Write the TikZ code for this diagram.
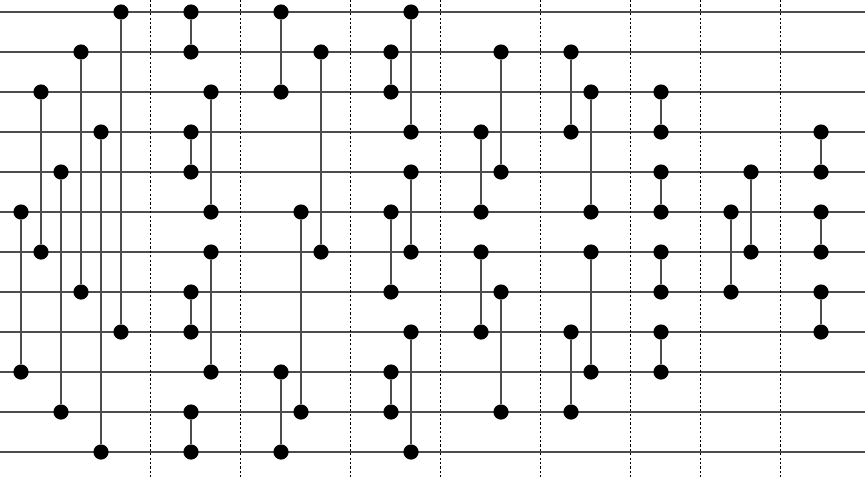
\documentclass[tikz,border=0pt]{standalone}
\begin{document}
\begin{tikzpicture}[x=1pt,y=-1pt,
  wire/.style={draw=black!70,line width=1.7pt},
  link/.style={draw=black!70,line width=1.7pt},
  barrier/.style={draw=black,line width=0.9pt,dash pattern=on 2.2pt off 2.2pt},
  dot/.style={circle,fill=black,draw=none,minimum size=15.2pt,inner sep=0pt}]
\useasboundingbox (0,0) rectangle (867,482);
% wires
\foreach \w in {12,52,...,452}{
  \coordinate (wl\w) at (0,\w);
  \coordinate (wr\w) at (865,\w);
  \draw[wire] (wl\w) -- (wr\w);
}
% barriers
\foreach \x in {151,241,351,441,541,631,701,781}{
  \coordinate (bt\x) at (\x-0.4,0);
  \coordinate (bb\x) at (\x-0.4,479.5);
  \draw[barrier] (bt\x) -- (bb\x);
}
% gates: x / top wire / bottom wire
\foreach \x/\a/\b in {
  21/212/372, 41/92/252, 61/172/412, 81/52/292, 101/132/452, 121/12/332,
  191/12/52, 191/132/172, 191/292/332, 191/412/452,
  211/92/212, 211/252/372,
  281/12/92, 281/372/452, 301/212/412, 321/52/252,
  391/52/92, 391/212/292, 391/372/412,
  411/12/132, 411/172/252, 411/332/452,
  481/132/212, 481/252/332,
  501/52/172, 501/292/412,
  571/52/132, 571/332/412,
  591/92/212, 591/252/372,
  661/92/132, 661/172/212, 661/252/292, 661/332/372,
  731/212/292, 751/172/252,
  821/132/172, 821/212/252, 821/292/332}{
  \node[dot] (g\x-\a) at (\x,\a) {};
  \node[dot] (g\x-\b) at (\x,\b) {};
  \draw[link] (g\x-\a) -- (g\x-\b);
}
\end{tikzpicture}
\end{document}
